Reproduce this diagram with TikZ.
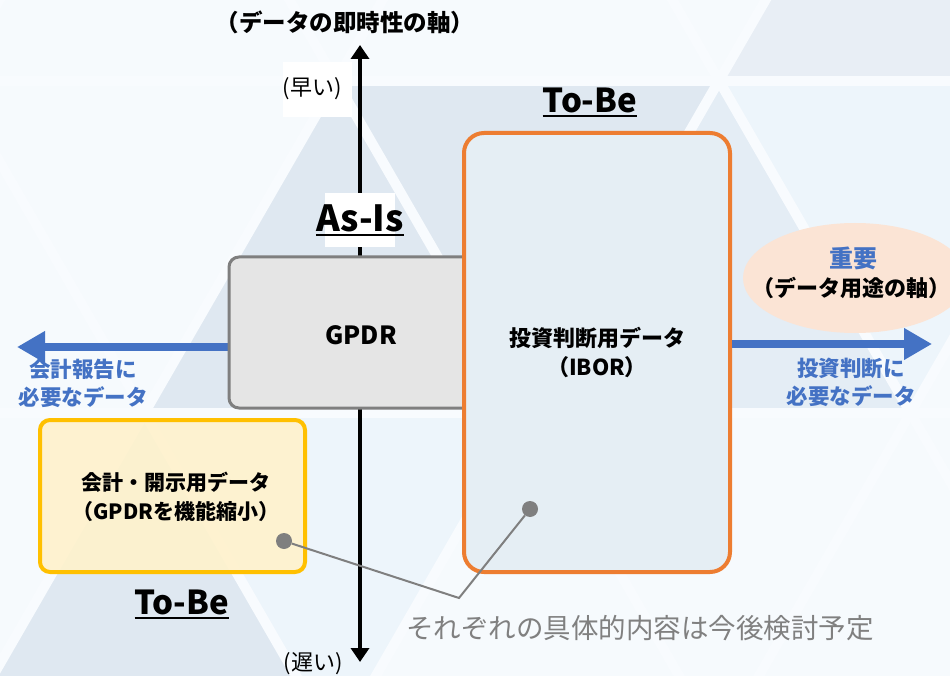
\documentclass[tikz,border=0pt]{standalone}
\usepackage{fontspec}
\setmainfont{Noto Sans CJK JP}
\usetikzlibrary{arrows.meta,shapes.geometric}
\definecolor{bgc}{HTML}{F6FAFD}
\definecolor{triA}{HTML}{DFE8F1}
\definecolor{triB}{HTML}{E4EDF5}
\definecolor{triC}{HTML}{EDF5FB}
\definecolor{triD}{HTML}{E8EEF5}
\definecolor{stripe}{HTML}{F8FBFE}
\definecolor{gpdrfill}{HTML}{E5E5E5}
\definecolor{gpdrline}{HTML}{7F7F7F}
\definecolor{iborfill}{HTML}{E5EEF4}
\definecolor{iborline}{HTML}{ED7D31}
\definecolor{yfill}{HTML}{FFF2CC}
\definecolor{yline}{HTML}{FFC000}
\definecolor{myblue}{HTML}{4472C4}
\definecolor{ellfill}{HTML}{FBE4D5}
\definecolor{dotc}{HTML}{7F7F7F}
\definecolor{graytext}{HTML}{808080}
\tikzset{
  lbl/.style={inner sep=0pt, align=center},
  boldlbl/.style={lbl, font=\fontsize{22}{29}\selectfont\bfseries},
  bluelbl/.style={lbl, text=myblue, font=\fontsize{21.5}{28}\selectfont\bfseries},
  titlelbl/.style={lbl, font=\fontsize{33}{36}\selectfont\bfseries},
  whitebox/.style={fill=white, draw=none, inner sep=0pt},
  gpdrbox/.style={draw=gpdrline, fill=gpdrfill, line width=3pt, rounded corners=10pt},
  iborbox/.style={draw=iborline, fill=iborfill, line width=4pt, rounded corners=20pt},
  ybox/.style={draw=yline, fill=yfill, fill opacity=0.9, draw opacity=1, line width=4pt, rounded corners=10pt},
  barrow/.style={draw=myblue, line width=8pt, -{Triangle[length=28pt,width=30pt]}},
  varrow/.style={draw=black, line width=4pt, {Triangle[length=14pt,width=18pt]}-{Triangle[length=14pt,width=18pt]}},
  conn/.style={draw=dotc, line width=2pt},
  dotnode/.style={circle, fill=dotc, inner sep=0pt, minimum size=16pt},
  uline/.style={line width=2.2pt},
}
\begin{document}
\begin{tikzpicture}[x=1pt,y=-1pt]
\useasboundingbox (0,0) rectangle (950,676);
% ---------- background ----------
\fill[bgc] (0,0) rectangle (950,676);
\begin{scope}
\clip (0,0) rectangle (950,676);
% middle row (y 81..413)
\fill[triA] (336,81) -- (144,413) -- (528,413) -- cycle;
\fill[triA] (336,81) -- (719,81) -- (528,413) -- cycle;
\fill[triB] (719,81) -- (528,413) -- (911,413) -- cycle;
\fill[triC] (719,81) -- (1102,81) -- (911,413) -- cycle;
% top row
\fill[triD] (719,81) -- (1102,81) -- (911,-251) -- cycle;
% bottom row
\fill[triA] (144,413) -- (-48,745) -- (336,745) -- cycle;
\fill[triC] (144,413) -- (528,413) -- (336,745) -- cycle;
% stripes
\foreach \k in {-2,-1,0,1,2} {
  \draw[stripe, line width=10pt] ({336+383*\k-58},-20) -- ({336+383*\k+357},700);
  \draw[stripe, line width=10pt] ({336+383*\k+58},-20) -- ({336+383*\k-357},700);
}
\draw[stripe, line width=10pt] (-10,81) -- (960,81);
\draw[stripe, line width=10pt] (-10,413) -- (960,413);
\end{scope}
% ---------- axes ----------
\coordinate (vtop) at (360,45);
\coordinate (vbot) at (360,662);
\draw[varrow] (vbot) -- (vtop);
\node[lbl, font=\fontsize{23.5}{29}\selectfont\bfseries] (ttl) at (345,22) {（データの即時性の軸）};
\node[whitebox, minimum width=69pt, minimum height=55pt] (earlybox) at (317.5,89.5) {};
\node[lbl, font=\fontsize{22}{26}\selectfont] (early) at (312,89) {(早い)};
\node[whitebox, minimum width=70pt, minimum height=54pt] (asisbox) at (360,220) {};
\node[lbl, font=\fontsize{36}{40}\selectfont\bfseries] (asis) at (360,218) {As-Is};
\draw[uline] ([yshift=-4pt]asis.base west) -- ([yshift=-4pt]asis.base east);
\node[lbl, font=\fontsize{22}{26}\selectfont] (late) at (313,664) {(遅い)};
% ---------- ellipse ----------
\node[ellipse, fill=ellfill, minimum width=224pt, minimum height=110pt, inner sep=0pt] (ell) at (855,278) {};
\node[lbl, text=myblue, font=\fontsize{24}{28}\selectfont\bfseries] (imp) at (853,258) {重要};
\node[boldlbl] (useaxis) at (851,288) {（データ用途の軸）};
% ---------- boxes ----------
\coordinate (lt) at (17,347);
\coordinate (rt) at (932,344);
\draw[barrow] (229,347) -- (lt);
\node[gpdrbox, minimum width=251pt, minimum height=151pt] (gpdr) at (354.5,332.5) {};
\node[lbl, font=\fontsize{25}{28}\selectfont\bfseries] (gpdrt) at (361,335) {GPDR};
\node[iborbox, minimum width=266pt, minimum height=439pt] (ibor) at (597,352.5) {};
\draw[barrow] (ibor.east |- rt) -- (rt);
\node[boldlbl] (ibort) at (597,352) {投資判断用データ\\（IBOR）};
\node[titlelbl] (tobe1) at (590,100) {To-Be};
\draw[uline] ([yshift=-4pt]tobe1.base west) -- ([yshift=-4pt]tobe1.base east);
\node[ybox, minimum width=265pt, minimum height=152pt] (ybx) at (172.5,496) {};
\node[lbl, font=\fontsize{21}{29}\selectfont\bfseries] (ytxt) at (176,497) {会計・開示用データ\\（GPDRを機能縮小）};
\node[titlelbl] (tobe2) at (182,602) {To-Be};
\draw[uline] ([yshift=-4pt]tobe2.base west) -- ([yshift=-4pt]tobe2.base east);
% ---------- axis labels ----------
\node[bluelbl] (leftlbl) at (83,383) {会計報告に\\必要なデータ};
\node[bluelbl] (rightlbl) at (851,382) {投資判断に\\必要なデータ};
% ---------- callout ----------
\coordinate (bend) at (459,598);
\node[dotnode] (d1) at (284,541) {};
\node[dotnode] (d2) at (530,509) {};
\draw[conn] (d1) -- (bend) -- (d2);
\node[lbl, text=graytext, font=\fontsize{27.5}{32}\selectfont] (note) at (640,628) {それぞれの具体的内容は今後検討予定};
\end{tikzpicture}
\end{document}
